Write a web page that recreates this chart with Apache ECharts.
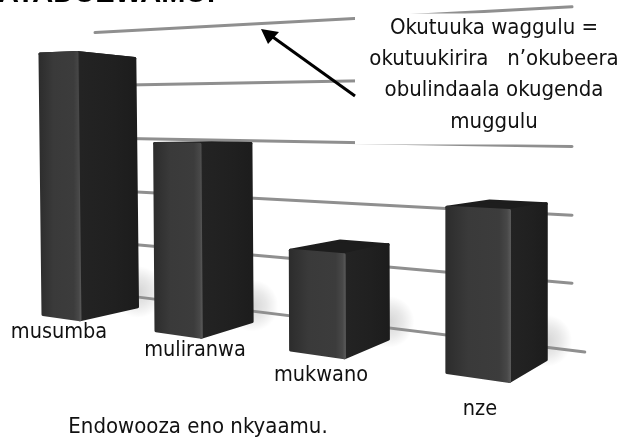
<!DOCTYPE html>
<html>
<head>
<meta charset="utf-8">
<style>
  html, body { margin: 0; padding: 0; background: #fff; }
  #main { width: 622px; height: 443px; }
</style>
</head>
<body>
<div id="main"></div>
<script src="https://cdn.jsdelivr.net/npm/echarts@6/dist/echarts.min.js"></script>
<script>
// data
var categories = ['musumba', 'muliranwa', 'mukwano', 'nze'];
var barValues = [4.64, 2.92, 1.14, 2.02];
var gridLevels = [0, 1, 2, 3, 4, 5];
var noteLines = ['Okutuuka waggulu =', 'okutuukirira   n\u2019okubeera', 'obulindaala okugenda', 'muggulu'];

// layout of the loose texts, not data
var labelPos = [[59, 332], [195, 350], [321, 375], [480, 409]];
var TEXT_FONT = '"DejaVu Sans Condensed", "DejaVu Sans", sans-serif';

// fake perspective on top of the plain value axes
var PERSP = 0.073;
var DROP = 0.2534;
var WARP = 0.0055;
var BAR_FLOOR = -0.6;
var VANISH_LEVEL = 3.22;
var TAPER = 0.108;

function project(api, u, level) {
  var l = level - WARP * level * (5 - level);
  return api.coord([u, l * (1 + PERSP * u) - DROP * u]);
}

function slotStart(i) {
  return i * (0.992 + 0.105 * i);
}

function renderLine(params, api) {
  var level = api.value(0);
  var from = level === 5 ? 0.505 : 0.55;
  var to = level === 0 ? 5.26 : 5.136;
  var a = project(api, from, level);
  var b = project(api, to, level);
  return {
    type: 'line',
    shape: { x1: a[0], y1: a[1], x2: b[0], y2: b[1] },
    style: { stroke: '#8f8f8f', lineWidth: 3, lineCap: 'round' }
  };
}

function renderShadow(params, api) {
  var i = api.value(0);
  var width = 0.92 + 0.015 * i;
  var c = project(api, slotStart(i) + width, BAR_FLOOR + 0.7);
  return {
    type: 'ellipse',
    shape: { cx: c[0], cy: c[1], rx: 48, ry: 26 },
    style: {
      fill: new echarts.graphic.RadialGradient(0.5, 0.5, 0.5, [
        { offset: 0, color: 'rgba(0,0,0,0.17)' },
        { offset: 0.55, color: 'rgba(0,0,0,0.09)' },
        { offset: 1, color: 'rgba(0,0,0,0)' }
      ])
    }
  };
}

function renderBar(params, api) {
  var i = api.value(0);
  var top = api.value(1);
  var left = slotStart(i);
  var width = 0.92 + 0.015 * i;
  var frontAt = 0.39 + 0.08 * i;
  var lean = -0.0056 * (3 - i) / 3;

  function corner(frac, level) {
    return project(api, left + width * frac + lean * (level - BAR_FLOOR), level);
  }
  function sideLevel(level) {
    return level + TAPER * (VANISH_LEVEL - level);
  }

  var leftTop = corner(0, top);
  var leftBase = corner(0, BAR_FLOOR);
  var frontTop = corner(frontAt, top);
  var frontBase = corner(frontAt, BAR_FLOOR);
  var rightTop = corner(1, sideLevel(top));
  var rightBase = corner(1, sideLevel(BAR_FLOOR));
  var backTop = corner(1.06 - frontAt, sideLevel(top));

  var leftFill = new echarts.graphic.LinearGradient(0, 0, 1, 0, [
    { offset: 0, color: '#2c2c2c' },
    { offset: 0.35, color: '#3a3a3a' },
    { offset: 0.82, color: '#3c3c3c' },
    { offset: 0.94, color: '#484848' },
    { offset: 1, color: '#5c5c5c' }
  ]);
  var rightFill = new echarts.graphic.LinearGradient(0, 0, 1, 0, [
    { offset: 0, color: '#2c2c2c' },
    { offset: 0.08, color: '#232323' },
    { offset: 0.6, color: '#202020' },
    { offset: 1, color: '#1c1c1c' }
  ]);

  return {
    type: 'group',
    children: [
      {
        type: 'polygon',
        shape: { points: [leftTop, backTop, rightTop, frontTop] },
        style: { fill: '#1d1d1d', stroke: '#1d1d1d', lineWidth: 3, lineJoin: 'round' }
      },
      {
        type: 'polygon',
        shape: { points: [frontTop, rightTop, rightBase, frontBase] },
        style: { fill: rightFill, stroke: rightFill, lineWidth: 3, lineJoin: 'round' }
      },
      {
        type: 'polygon',
        shape: { points: [leftTop, frontTop, frontBase, leftBase] },
        style: { fill: leftFill, stroke: leftFill, lineWidth: 3, lineJoin: 'round' }
      }
    ]
  };
}

var graphics = [
  // white box of the note, it hides the grid lines behind it
  { type: 'rect', z: 10, shape: { x: 355, y: 13.5, width: 267, height: 131 }, style: { fill: '#fff' } },
  { type: 'line', z: 11, shape: { x1: 355, y1: 96, x2: 270, y2: 35 }, style: { stroke: '#000', lineWidth: 3 } },
  { type: 'polygon', z: 11, shape: { points: [[261, 29], [279, 32], [268, 44]] }, style: { fill: '#000' } },
  {
    type: 'text', z: 12, left: -2, top: -21,
    style: { text: 'ATADUEWAMU!', fill: '#000', font: 'bold 29px "Liberation Sans", Arial, sans-serif' }
  },
  {
    type: 'text', z: 12, x: 198, y: 427,
    style: { text: 'Endowooza eno nkyaamu.', fill: '#111', font: '22px ' + TEXT_FONT, textAlign: 'center', textVerticalAlign: 'middle' }
  }
];
noteLines.forEach(function (line, i) {
  graphics.push({
    type: 'text', z: 12, x: 494, y: 28 + i * 31.3,
    style: { text: line, fill: '#111', font: '22px ' + TEXT_FONT, textAlign: 'center', textVerticalAlign: 'middle' }
  });
});
categories.forEach(function (name, i) {
  graphics.push({
    type: 'text', z: 12, x: labelPos[i][0], y: labelPos[i][1],
    style: { text: name, fill: '#111', font: '21.5px ' + TEXT_FONT, textAlign: 'center', textVerticalAlign: 'middle' }
  });
});

var barData = barValues.map(function (v, i) { return [i, v]; });

var chart = echarts.init(document.getElementById('main'));
chart.setOption({
  animation: false,
  backgroundColor: '#fff',
  grid: { left: 43, right: 12.5, top: 35.4, height: 400 },
  xAxis: { type: 'value', min: 0, max: 5.5, show: false },
  yAxis: { type: 'value', min: -3, max: 5, show: false },
  graphic: { elements: graphics },
  series: [
    { type: 'custom', z: 1, silent: true, data: barData, renderItem: renderShadow },
    { type: 'custom', z: 2, silent: true, data: gridLevels.map(function (l) { return [l]; }), renderItem: renderLine },
    { type: 'custom', z: 3, silent: true, data: barData, renderItem: renderBar }
  ]
});
</script>
</body>
</html>
